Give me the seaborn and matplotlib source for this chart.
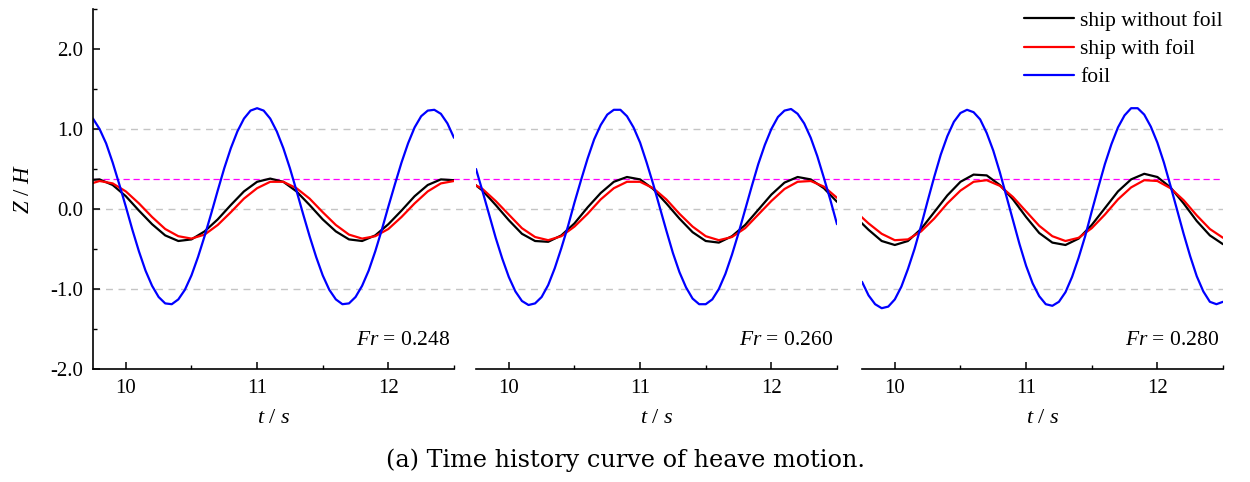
import numpy as np
import pandas as pd
import matplotlib
matplotlib.use("Agg")
import matplotlib.pyplot as plt
import seaborn as sns
from matplotlib.ticker import MultipleLocator

# time grids (s)
t_ship = np.round(np.arange(9.7, 12.55, 0.1), 2)    # 29 points
t_foil = np.round(np.arange(9.75, 12.52, 0.05), 2)  # 56 points

fr_values = ["0.248", "0.260", "0.280"]
series_names = ["ship without foil", "ship with foil", "foil"]
colors = {"ship without foil": "black", "ship with foil": "red", "foil": "blue"}

# Z/H, Fr = 0.248
ship_nofoil_248 = [0.36, 0.37, 0.30, 0.16, -0.02, -0.19, -0.33, -0.40, -0.38, -0.28,
                   -0.13, 0.05, 0.22, 0.34, 0.38, 0.34, 0.22, 0.05, -0.13, -0.28,
                   -0.38, -0.40, -0.33, -0.19, -0.02, 0.16, 0.30, 0.37, 0.36]
ship_foil_248 = [0.30, 0.35, 0.32, 0.22, 0.07, -0.10, -0.25, -0.34, -0.37, -0.32,
                 -0.20, -0.04, 0.13, 0.26, 0.34, 0.34, 0.26, 0.13, -0.04, -0.20,
                 -0.32, -0.37, -0.34, -0.25, -0.10, 0.07, 0.22, 0.32, 0.35]
foil_248 = [1.13, 1.00, 0.82, 0.58, 0.31, 0.03, -0.26, -0.53, -0.77, -0.96,
            -1.10, -1.18, -1.19, -1.13, -1.01, -0.83, -0.60, -0.34, -0.06, 0.23,
            0.51, 0.76, 0.97, 1.13, 1.23, 1.26, 1.23, 1.13, 0.97, 0.76,
            0.51, 0.23, -0.06, -0.34, -0.60, -0.83, -1.01, -1.13, -1.19, -1.18,
            -1.10, -0.96, -0.77, -0.53, -0.26, 0.03, 0.31, 0.58, 0.82, 1.02,
            1.16, 1.23, 1.24, 1.19, 1.07, 0.89]

# Fr = 0.260
ship_nofoil_260 = [0.36, 0.23, 0.05, -0.14, -0.31, -0.40, -0.41, -0.33, -0.18, 0.02,
                   0.20, 0.34, 0.40, 0.37, 0.25, 0.07, -0.12, -0.29, -0.40, -0.42,
                   -0.34, -0.20, -0.01, 0.18, 0.33, 0.40, 0.37, 0.26, 0.09]
ship_foil_260 = [0.34, 0.25, 0.10, -0.07, -0.24, -0.35, -0.39, -0.34, -0.22, -0.06,
                 0.12, 0.26, 0.34, 0.34, 0.26, 0.12, -0.06, -0.22, -0.34, -0.39,
                 -0.35, -0.24, -0.07, 0.10, 0.25, 0.34, 0.35, 0.28, 0.14]
foil_260 = [0.50, 0.22, -0.07, -0.36, -0.62, -0.85, -1.03, -1.15, -1.20, -1.18,
            -1.10, -0.95, -0.74, -0.49, -0.22, 0.08, 0.36, 0.63, 0.87, 1.05,
            1.18, 1.24, 1.24, 1.16, 1.02, 0.83, 0.58, 0.31, 0.02, -0.27,
            -0.55, -0.79, -0.98, -1.12, -1.19, -1.19, -1.13, -1.00, -0.81, -0.57,
            -0.30, -0.01, 0.28, 0.56, 0.80, 1.00, 1.15, 1.23, 1.25, 1.19,
            1.07, 0.89, 0.66, 0.39, 0.11, -0.19]

# Fr = 0.280
ship_nofoil_280 = [-0.10, -0.26, -0.40, -0.45, -0.40, -0.25, -0.04, 0.17, 0.34, 0.43,
                   0.42, 0.30, 0.12, -0.10, -0.30, -0.42, -0.45, -0.37, -0.20, 0.01,
                   0.22, 0.37, 0.44, 0.40, 0.27, 0.07, -0.15, -0.33, -0.44]
ship_foil_280 = [-0.03, -0.18, -0.31, -0.39, -0.38, -0.28, -0.12, 0.07, 0.23, 0.34,
                 0.36, 0.29, 0.15, -0.03, -0.21, -0.34, -0.40, -0.36, -0.24, -0.07,
                 0.12, 0.27, 0.36, 0.35, 0.26, 0.11, -0.08, -0.25, -0.36]
foil_280 = [-0.91, -1.08, -1.19, -1.24, -1.22, -1.13, -0.97, -0.75, -0.50, -0.21,
            0.10, 0.40, 0.68, 0.91, 1.09, 1.20, 1.24, 1.21, 1.12, 0.95,
            0.73, 0.46, 0.16, -0.14, -0.44, -0.71, -0.93, -1.09, -1.19, -1.21,
            -1.16, -1.04, -0.85, -0.61, -0.34, -0.03, 0.27, 0.56, 0.81, 1.02,
            1.17, 1.26, 1.26, 1.18, 1.03, 0.83, 0.58, 0.29, -0.01, -0.31,
            -0.59, -0.84, -1.03, -1.16, -1.19, -1.16]

ref_level = 0.38      # magenta dashed reference line
grid_levels = [-1.0, 0.0, 1.0]

panels = [
    (ship_nofoil_248, ship_foil_248, foil_248),
    (ship_nofoil_260, ship_foil_260, foil_260),
    (ship_nofoil_280, ship_foil_280, foil_280),
]

sns.set_theme(style="ticks")
plt.rcParams["font.family"] = ["Liberation Serif", "DejaVu Serif"]
plt.rcParams["mathtext.fontset"] = "custom"
plt.rcParams["mathtext.rm"] = "Liberation Serif"
plt.rcParams["mathtext.it"] = "Liberation Serif:italic"
for key in ["text.color", "axes.labelcolor", "xtick.color", "ytick.color",
            "axes.edgecolor"]:
    plt.rcParams[key] = "black"

W, H = 1250, 482
fig = plt.figure(figsize=(12.5, 4.82), dpi=100)

bottom = 1 - 369 / H
height = 360 / H
lefts = [93, 476, 862]
width_px = 361

# background axes for the dashed lines running across all panels
ax_bg = fig.add_axes([93 / W, bottom, (1223 - 93) / W, height])
ax_bg.set_ylim(-2.0, 2.5)
ax_bg.set_xlim(0, 1)
ax_bg.axis("off")
for g in grid_levels:
    ax_bg.axhline(g, color="#c4c4c4", lw=1.0, ls=(0, (5, 4)))
ax_bg.axhline(ref_level, color="#ff00ff", lw=0.9, ls=(0, (5, 3)))

for i, (nofoil, withfoil, foil) in enumerate(panels):
    ax = fig.add_axes([lefts[i] / W, bottom, width_px / W, height])
    ax.set_facecolor("none")
    df = pd.concat([
        pd.DataFrame({"t": t_ship, "Z": nofoil, "series": series_names[0]}),
        pd.DataFrame({"t": t_ship, "Z": withfoil, "series": series_names[1]}),
        pd.DataFrame({"t": t_foil, "Z": foil, "series": series_names[2]}),
    ])
    sns.lineplot(data=df, x="t", y="Z", hue="series", hue_order=series_names,
                 palette=colors, linewidth=1.6, errorbar=None, ax=ax,
                 legend=(i == 2))
    ax.set_xlim(9.75, 12.5)
    ax.set_ylim(-2.0, 2.5)
    ax.xaxis.set_minor_locator(MultipleLocator(0.5))
    ax.set_xticks([10, 11, 12])
    ax.tick_params(axis="both", which="major", direction="in", length=5,
                   width=1.1, labelsize=15, pad=7)
    ax.tick_params(axis="both", which="minor", direction="in", length=3, width=1.0)
    for s in ["top", "right"]:
        ax.spines[s].set_visible(False)
    ax.spines["bottom"].set_linewidth(1.2)
    ax.set_xlabel("$t$ / $s$", fontsize=16, labelpad=8)
    if i == 0:
        ax.set_yticks([-2, -1, 0, 1, 2])
        ax.yaxis.set_minor_locator(MultipleLocator(0.5))
        ax.set_yticklabels(["-2.0", "-1.0", "0.0", "1.0", "2.0"])
        ax.spines["left"].set_linewidth(1.2)
        ax.set_ylabel("$Z$ / $H$", fontsize=16.5, labelpad=12)
    else:
        ax.spines["left"].set_visible(False)
        ax.set_yticks([])
        ax.yaxis.set_minor_locator(plt.NullLocator())
        ax.set_ylabel("")
    ax.text(0.99, 0.08, "$Fr$ = " + fr_values[i], transform=ax.transAxes,
            ha="right", va="center", fontsize=15.5)
    if i == 2:
        leg = ax.legend(loc="upper right", bbox_to_anchor=(1.0, 0.995),
                        frameon=False, fontsize=15.5, handlelength=2.3,
                        handletextpad=0.3, labelspacing=0.38, borderaxespad=0.0,
                        borderpad=0.0)
        for line in leg.get_lines():
            line.set_linewidth(1.6)

fig.text(0.5004, 1 - 460 / H, "(a) Time history curve of heave motion.",
         ha="center", va="center", fontsize=17.2, family="DejaVu Serif")

fig.savefig("out.png", dpi=100)
